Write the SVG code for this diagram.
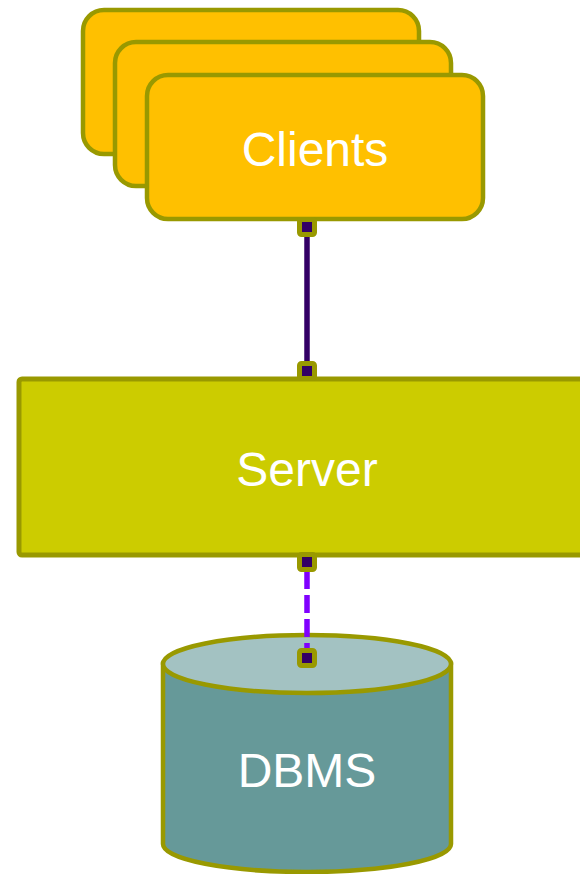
<svg xmlns="http://www.w3.org/2000/svg" width="580" height="874" viewBox="0 0 580 874">
  <style>
    .client { fill: #FFC000; stroke: #999900; stroke-width: 4.5; }
    .server { fill: #CCCC00; stroke: #999900; stroke-width: 5; }
    .db-body { fill: #669999; stroke: #999900; stroke-width: 4.5; }
    .db-top { fill: #A3C2C2; stroke: #999900; stroke-width: 4.5; }
    .label { font-family: "Liberation Sans", Arial, sans-serif; font-size: 48px; fill: #FFFFFF; text-anchor: middle; }
    .port { fill: #330066; stroke: #999900; stroke-width: 5; }
    .link-solid { stroke: #330066; stroke-width: 5.5; fill: none; }
    .link-dashed { stroke: #8000FF; stroke-width: 5.5; fill: none; stroke-dasharray: 18 6; }
  </style>

  <g id="clients">
    <rect class="client" x="83" y="10" width="336" height="144" rx="21"/>
    <rect class="client" x="115" y="42" width="336" height="144" rx="21"/>
    <rect class="client" x="147" y="75" width="336" height="144" rx="21"/>
    <text class="label" x="315" y="166">Clients</text>
  </g>

  <g id="server">
    <rect class="server" x="19" y="379" width="578" height="176" rx="3"/>
    <text class="label" x="307" y="486">Server</text>
  </g>

  <g id="dbms">
    <path class="db-body" d="M163,664 L163,844 A144,28 0 0 0 451,844 L451,664 Z"/>
    <ellipse class="db-top" cx="307" cy="664" rx="144" ry="29"/>
    <text class="label" x="307" y="787">DBMS</text>
  </g>

  <g id="connectors">
    <line class="link-solid" x1="307" y1="227" x2="307" y2="371"/>
    <line class="link-dashed" x1="307" y1="571" x2="307" y2="655"/>
    <rect class="port" x="299.5" y="219.5" width="15" height="15" rx="2"/>
    <rect class="port" x="299.5" y="363.5" width="15" height="15" rx="2"/>
    <rect class="port" x="299.5" y="554.5" width="15" height="15" rx="2"/>
    <rect class="port" x="299.5" y="650.5" width="15" height="15" rx="2"/>
  </g>
</svg>
